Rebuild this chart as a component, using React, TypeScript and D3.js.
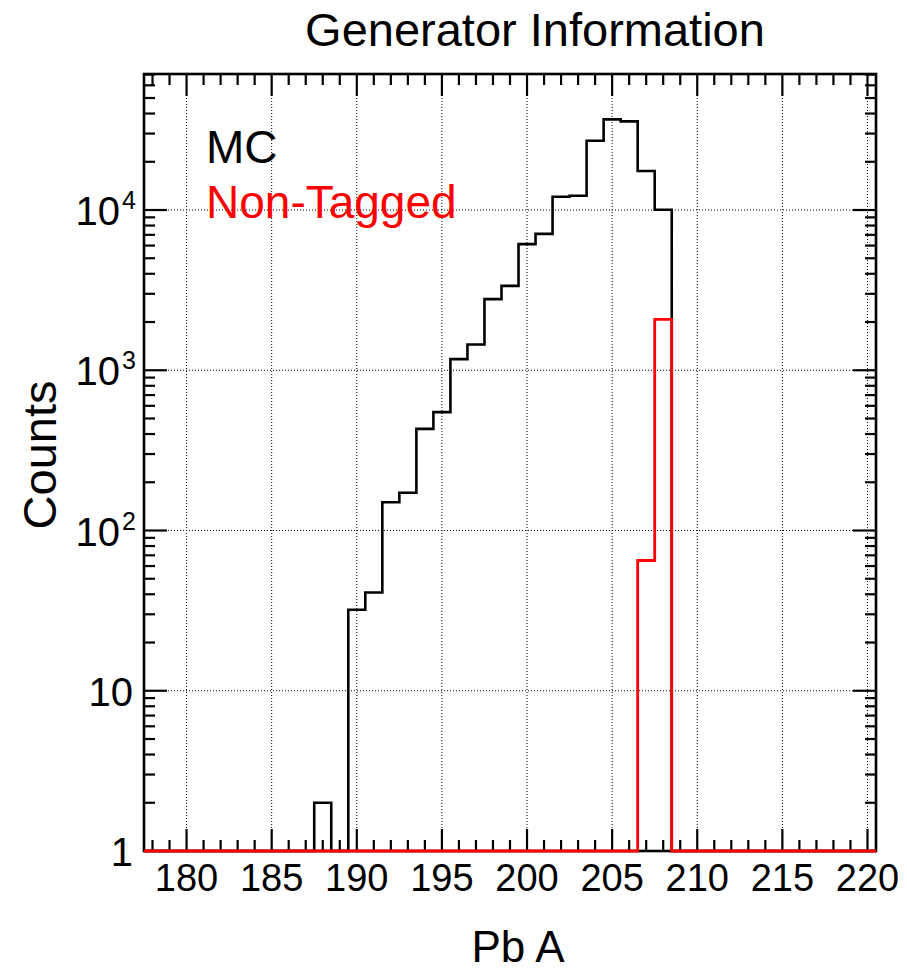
import React from "react";
import * as d3 from "d3";

const xMin = 177.5;
const xMax = 220.5;
const yMin = 1;
const yMax = 70600;

// MC (black) non-zero bins
const mcBins = [188, 190, 191, 192, 193, 194, 195, 196, 197, 198, 199, 200, 201, 202, 203, 204, 205, 206, 207, 208];
const mcCounts = [2, 32, 41, 150, 172, 431, 548, 1173, 1449, 2780, 3364, 6125, 7100, 12090, 12270, 27040, 36800, 35730, 17500, 10030];

// Non-Tagged (red) non-zero bins
const ntBins = [207, 208];
const ntCounts = [65, 2075];

const xMajorTicks = [180, 185, 190, 195, 200, 205, 210, 215, 220];
const yDecades = [1, 10, 100, 1000, 10000];
const yDecadeLabels = [
  { base: "1", exp: "" },
  { base: "10", exp: "" },
  { base: "10", exp: "2" },
  { base: "10", exp: "3" },
  { base: "10", exp: "4" },
];

const title = "Generator Information";
const xLabel = "Pb A";
const yLabel = "Counts";
const legendItems = [
  { label: "MC", color: "#000000" },
  { label: "Non-Tagged", color: "#ff0000" },
];

const W = 907;
const H = 974;
const L = 144, T = 74, R = 876, B = 851;
const FONT = "'Liberation Sans', Arial, Helvetica, sans-serif";

export default function App() {
  const x = d3.scaleLinear().domain([xMin, xMax]).range([L, R]);
  const y = d3.scaleLog().domain([yMin, yMax]).range([B, T]);

  const stepPath = (bins: number[], counts: number[]) => {
    const map = new Map<number, number>();
    bins.forEach((b, i) => map.set(b, counts[i]));
    let p = `M${x(xMin)},${B}`;
    for (let c = Math.ceil(xMin); c <= Math.floor(xMax); c++) {
      const v = map.get(c) ?? 0;
      const yy = v > 0 ? y(v) : B;
      p += `L${x(c - 0.5)},${yy}L${x(c + 0.5)},${yy}`;
    }
    p += `L${x(xMax)},${B}`;
    return p;
  };

  const xMinor: number[] = [];
  for (let v = Math.ceil(xMin); v <= Math.floor(xMax); v++) xMinor.push(v);

  const yMinor: number[] = [];
  for (const d of yDecades) {
    for (let k = 2; k <= 9; k++) {
      const v = d * k;
      if (v <= yMax) yMinor.push(v);
    }
  }

  return (
    <svg width={W} height={H} style={{ display: "block", position: "absolute", left: 0, top: 0 }} fontFamily={FONT}>
      <rect x={0} y={0} width={W} height={H} fill="#fff" />
      {/* grid */}
      <g stroke="#000" strokeWidth={1} strokeDasharray="1,2">
        {xMajorTicks.map((t) => (
          <line key={"gx" + t} x1={x(t)} x2={x(t)} y1={T} y2={B} />
        ))}
        {yDecades.filter((d) => d > 1).map((d) => (
          <line key={"gy" + d} x1={L} x2={R} y1={y(d)} y2={y(d)} />
        ))}
      </g>
      {/* ticks */}
      <g stroke="#000" strokeWidth={2.2}>
        {xMinor.map((t) => {
          const len = t % 5 === 0 ? 22 : 11;
          return (
            <g key={"xt" + t}>
              <line x1={x(t)} x2={x(t)} y1={B} y2={B - len} />
              <line x1={x(t)} x2={x(t)} y1={T} y2={T + len} />
            </g>
          );
        })}
        {yDecades.map((d) => (
          <g key={"yt" + d}>
            <line x1={L} x2={L + 23} y1={y(d)} y2={y(d)} />
            <line x1={R} x2={R - 23} y1={y(d)} y2={y(d)} />
          </g>
        ))}
        {yMinor.map((v) => (
          <g key={"ym" + v}>
            <line x1={L} x2={L + 11} y1={y(v)} y2={y(v)} />
            <line x1={R} x2={R - 11} y1={y(v)} y2={y(v)} />
          </g>
        ))}
      </g>
      {/* histograms */}
      <path d={stepPath(mcBins, mcCounts)} fill="none" stroke="#000" strokeWidth={2.6} />
      {/* frame */}
      <rect x={L} y={T} width={R - L} height={B - T} fill="none" stroke="#000" strokeWidth={2.6} />
      <path d={stepPath(ntBins, ntCounts)} fill="none" stroke="#ff0000" strokeWidth={2.8} />
      {/* x tick labels */}
      {xMajorTicks.map((t) => (
        <text key={"xl" + t} x={x(t)} y={891} fontSize={38} textAnchor="middle" fill="#000">
          {t}
        </text>
      ))}
      {/* y tick labels */}
      {yDecades.map((d, i) => {
        const lab = yDecadeLabels[i];
        const yy = y(d);
        if (!lab.exp) {
          return (
            <text key={"yl" + d} x={133} y={yy + 15} fontSize={40} textAnchor="end" fill="#000">
              {lab.base}
            </text>
          );
        }
        return (
          <g key={"yl" + d}>
            <text x={120} y={yy + 15} fontSize={40} textAnchor="end" fill="#000">
              {lab.base}
            </text>
            <text x={122} y={yy - 1} fontSize={25} textAnchor="start" fill="#000">
              {lab.exp}
            </text>
          </g>
        );
      })}
      {/* axis titles */}
      <text x={518} y={962} fontSize={44} textAnchor="middle" fill="#000">
        {xLabel}
      </text>
      <text transform={`translate(56,455) rotate(-90)`} fontSize={47} textAnchor="middle" fill="#000">
        {yLabel}
      </text>
      {/* title */}
      <text x={535} y={46} fontSize={47} textAnchor="middle" fill="#000">
        {title}
      </text>
      {/* legend */}
      {legendItems.map((it, i) => (
        <text key={it.label} x={206} y={163 + i * 55} fontSize={46} fill={it.color}>
          {it.label}
        </text>
      ))}
    </svg>
  );
}
